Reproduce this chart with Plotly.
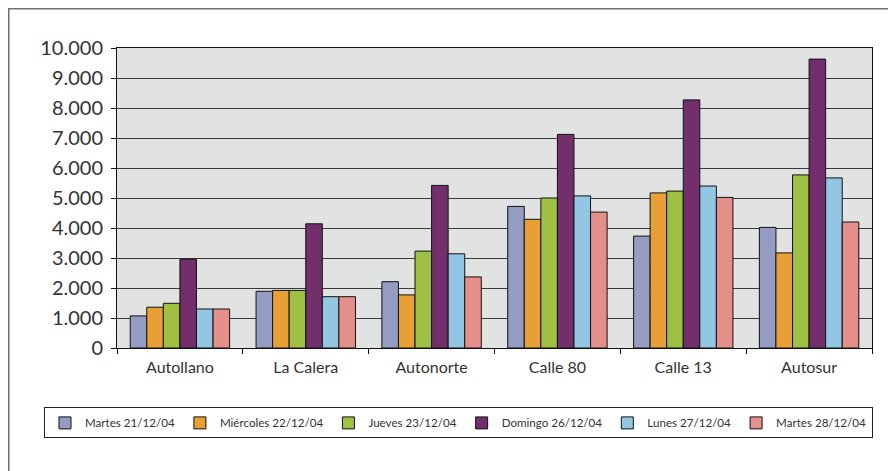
import plotly.graph_objects as go

# categories (toll stations)
estaciones = ['Autollano', 'La Calera', 'Autonorte', 'Calle 80', 'Calle 13', 'Autosur']

# vehicles per day
martes_21 = [1070, 1890, 2210, 4720, 3730, 4020]
miercoles_22 = [1360, 1920, 1770, 4290, 5170, 3170]
jueves_23 = [1490, 1920, 3230, 5000, 5230, 5770]
domingo_26 = [2960, 4140, 5420, 7120, 8270, 9630]
lunes_27 = [1300, 1710, 3140, 5070, 5400, 5670]
martes_28 = [1300, 1710, 2370, 4530, 5020, 4200]

series_names = ['Martes 21/12/04', 'Miércoles 22/12/04', 'Jueves 23/12/04',
                'Domingo 26/12/04', 'Lunes 27/12/04', 'Martes 28/12/04']
series_values = [martes_21, miercoles_22, jueves_23, domingo_26, lunes_27, martes_28]
colors = ['#949CC4', '#E8A036', '#9EC143', '#722F6B', '#92C6E3', '#E58F8B']

y_ticks = [0, 1000, 2000, 3000, 4000, 5000, 6000, 7000, 8000, 9000, 10000]
y_labels = ['0', '1.000', '2.000', '3.000', '4.000', '5.000',
            '6.000', '7.000', '8.000', '9.000', '10.000']

fig = go.Figure()
for name, vals, col in zip(series_names, series_values, colors):
    fig.add_trace(go.Bar(
        x=estaciones, y=vals, name=name,
        marker=dict(color=col, line=dict(color='#111111', width=1))
    ))

# page body adds an 8px offset, so margins are set 8px smaller on top/left
fig.update_layout(
    width=896, height=471,
    margin=dict(l=109, r=32, t=40, b=131, autoexpand=False),
    barmode='group', bargap=0.21, bargroupgap=0,
    paper_bgcolor='white', plot_bgcolor='#E1E3E3',
    font=dict(family='Lato, Open Sans, sans-serif', color='#333333'),
    showlegend=True,
    legend=dict(
        orientation='h', x=-0.0967, xanchor='left', y=-0.198, yanchor='top',
        bordercolor='#222222', borderwidth=1, bgcolor='white',
        font=dict(size=11.6, color='#333333'),
        itemwidth=30, tracegroupgap=0,
    ),
)
fig.update_xaxes(
    automargin=False,
    showline=True, linecolor='#111111', mirror=True,
    ticks='outside', tickson='boundaries', ticklen=5, tickcolor='#111111',
    tickfont=dict(size=16), showgrid=False, ticklabelstandoff=5,
)
fig.update_yaxes(
    automargin=False,
    range=[0, 10000], tickvals=y_ticks, ticktext=y_labels,
    showline=True, linecolor='#111111', mirror=True,
    ticks='outside', ticklen=5, tickcolor='#111111',
    tickfont=dict(size=20), gridcolor='#3a3a3a', gridwidth=1,
    zeroline=False, ticklabelstandoff=4,
)

# outer frame around the whole figure (right/bottom edges fall off the page)
fig.add_shape(type='rect', xref='paper', yref='paper',
              x0=-0.1437, x1=1.05, y0=1.1317, y1=-0.45,
              line=dict(color='#6e6e6e', width=2))

fig.write_html('out.html')
